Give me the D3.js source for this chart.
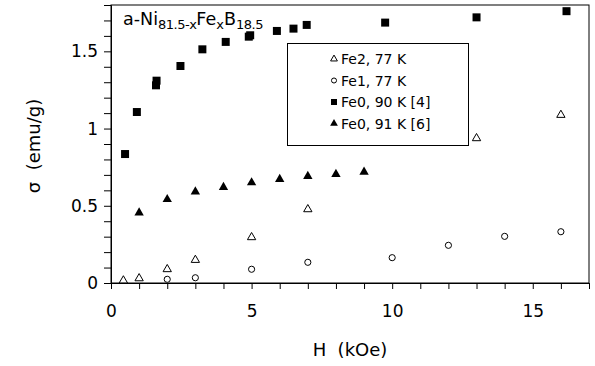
<!DOCTYPE html>
<html><head><meta charset="utf-8">
<script src="https://cdn.jsdelivr.net/npm/d3@7"></script>
<style>body{margin:0;background:#fff}svg{display:block}text{font-family:"DejaVu Sans",sans-serif;fill:#000;white-space:pre}</style>
</head><body><svg id="c" width="595" height="366"></svg>
<script>
const fe2H = [0.44, 1.0, 2.0, 3.0, 5.0, 7.0, 13.0, 16.0];
const fe2S = [0.016, 0.03, 0.089, 0.149, 0.296, 0.477, 0.937, 1.088];
const fe1H = [2.0, 3.0, 5.0, 7.0, 10.0, 12.0, 14.0, 16.0];
const fe1S = [0.024, 0.034, 0.089, 0.134, 0.164, 0.244, 0.302, 0.332];
const fe0aH = [0.5, 0.92, 1.6, 1.62, 2.47, 3.25, 4.08, 4.9, 4.95, 5.9, 6.49, 6.96, 9.75, 13.0, 16.2];
const fe0aS = [0.835, 1.107, 1.28, 1.31, 1.405, 1.513, 1.561, 1.595, 1.604, 1.632, 1.647, 1.671, 1.686, 1.72, 1.76];
const fe0bH = [1.0, 2.0, 3.0, 4.0, 5.0, 6.0, 7.0, 8.0, 9.0];
const fe0bS = [0.455, 0.542, 0.591, 0.62, 0.65, 0.672, 0.691, 0.704, 0.719];
const xTickLabels = [0, 5, 10, 15];
const yTickLabels = [0, 0.5, 1, 1.5];
const legendLabels = ["Fe2, 77 K", "Fe1, 77 K", "Fe0, 90 K [4]", "Fe0, 91 K [6]"];

const svg = d3.select("#c");
const L = 111, R = 589, T = 5, B = 283;
const x = d3.scaleLinear().domain([0, 17]).range([L, R]);
const y = d3.scaleLinear().domain([0, 1.8]).range([B, T]);

// frame
svg.append("rect").attr("x", L).attr("y", T).attr("width", R - L).attr("height", B - T)
  .attr("fill", "none").attr("stroke", "#000").attr("stroke-width", 1);

const xAxis = d3.axisBottom(x).tickValues(d3.range(0, 18, 1)).tickSize(6)
  .tickFormat(d => xTickLabels.includes(d) ? d : "");
const gx = svg.append("g").attr("transform", `translate(0,${B})`).call(xAxis);
gx.select(".domain").attr("stroke", "#000");
gx.selectAll(".tick line").attr("stroke", "#000").attr("stroke-width", 1);
gx.selectAll("text").attr("font-size", 17).attr("dy", "1.45em").attr("font-family", "DejaVu Sans");

const yAxis = d3.axisLeft(y).tickValues(d3.range(0, 19).map(i => i / 10)).tickSize(7)
  .tickFormat(d => yTickLabels.some(v => Math.abs(v - d) < 1e-6) ? d3.format("")(+d.toFixed(1)) : "");
const gy = svg.append("g").attr("transform", `translate(${L},0)`).call(yAxis);
gy.select(".domain").attr("stroke", "#000");
gy.selectAll(".tick line").attr("stroke", "#000").attr("stroke-width", 1);
gy.selectAll("text").attr("font-size", 17).attr("x", -13).attr("font-family", "DejaVu Sans");

// axis titles
svg.append("text").attr("x", 350).attr("y", 356).attr("text-anchor", "middle")
  .attr("font-size", 18).text("H  (kOe)");
svg.append("text").attr("transform", "translate(40,146) rotate(-90)").attr("text-anchor", "middle")
  .attr("font-size", 18).text("σ  (emu/g)");

// title
const t = svg.append("text").attr("x", 123).attr("y", 25).attr("font-size", 17.5);
t.append("tspan").text("a-Ni");
t.append("tspan").attr("font-size", 13).attr("dy", 4).attr("letter-spacing", -0.5).text("81.5-x");
t.append("tspan").attr("dy", -4).text("Fe");
t.append("tspan").attr("font-size", 13).attr("dy", 4).text("x");
t.append("tspan").attr("dy", -4).text("B");
t.append("tspan").attr("font-size", 13).attr("dy", 4).attr("letter-spacing", -0.5).text("18.5");

const sq = d3.symbol().type(d3.symbolSquare).size(64)();
const triF = d3.symbol().type(d3.symbolTriangle).size(38)();
const triO = d3.symbol().type(d3.symbolTriangle).size(30)();
const circ = d3.symbol().type(d3.symbolCircle).size(30)();

function plot(H, S, path, filled) {
  svg.append("g").selectAll("path").data(H.map((h, i) => [h, S[i]])).join("path")
    .attr("d", path).attr("transform", d => `translate(${x(d[0])},${y(d[1])})`)
    .attr("fill", filled ? "#000" : "#fff").attr("stroke", "#000").attr("stroke-width", filled ? 0 : 1);
}
plot(fe0aH, fe0aS, sq, true);
plot(fe0bH, fe0bS, triF, true);
plot(fe2H, fe2S, triO, false);
plot(fe1H, fe1S, circ, false);

// legend
svg.append("rect").attr("x", 287.5).attr("y", 43.5).attr("width", 181).attr("height", 102)
  .attr("fill", "#fff").attr("stroke", "#000");
const lsyms = [
  [d3.symbol().type(d3.symbolTriangle).size(20)(), false],
  [d3.symbol().type(d3.symbolCircle).size(20)(), false],
  [d3.symbol().type(d3.symbolSquare).size(36)(), true],
  [d3.symbol().type(d3.symbolTriangle).size(26)(), true]
];
legendLabels.forEach((lab, i) => {
  const cy = 59 + i * 21.5;
  svg.append("path").attr("d", lsyms[i][0]).attr("transform", `translate(334,${cy})`)
    .attr("fill", lsyms[i][1] ? "#000" : "#fff").attr("stroke", "#000").attr("stroke-width", lsyms[i][1] ? 0 : 1);
  svg.append("text").attr("x", 341).attr("y", cy + 5).attr("font-size", 14).text(lab);
});
</script></body></html>
